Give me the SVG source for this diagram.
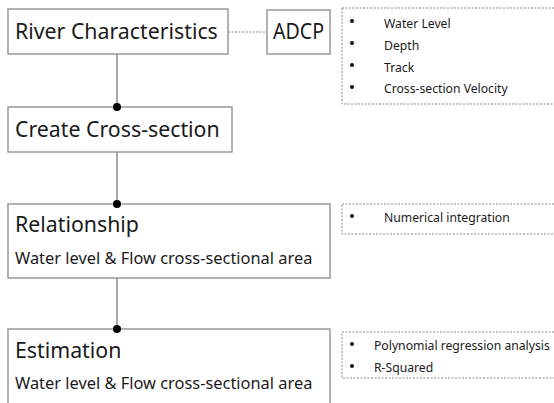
<svg xmlns="http://www.w3.org/2000/svg" width="554" height="403" viewBox="0 0 554 403">
<style>
.box{fill:#fff;stroke:#8a8a8a;stroke-width:1.3}
.dbox{fill:none;stroke:#8a8a8a;stroke-width:1;stroke-dasharray:2 1.5}
.conn{stroke:#8a8a8a;stroke-width:1.5;fill:none}
.t1{font-family:"Noto Sans","Open Sans",sans-serif;font-size:21.3px;fill:#1a1a1a}
.t2{font-family:"Noto Sans","Open Sans",sans-serif;font-size:16.4px;fill:#1a1a1a}
.t3{font-family:"Noto Sans","Open Sans",sans-serif;font-size:12.2px;fill:#1a1a1a}
.dot{fill:#000}
.bul{fill:#111}
</style>
<rect width="554" height="403" fill="#fff"/>
<g id="connectors">
<line class="conn" x1="117" y1="54" x2="117" y2="107"/>
<line class="conn" x1="117" y1="152" x2="117" y2="204"/>
<line class="conn" x1="117" y1="278" x2="117" y2="329"/>
<line x1="228" y1="32" x2="267" y2="32" stroke="#8a8a8a" stroke-width="1" stroke-dasharray="2 1.5"/>
</g>
<g id="river">
<rect class="box" x="8" y="9" width="220" height="45"/>
<text class="t1" x="15" y="39">River Characteristics</text>
</g>
<g id="adcp">
<rect class="box" x="267" y="10" width="63" height="44"/>
<text class="t1" x="273" y="39" textLength="51" lengthAdjust="spacingAndGlyphs">ADCP</text>
</g>
<g id="cross">
<rect class="box" x="8" y="107" width="224" height="45"/>
<text class="t1" x="15" y="137">Create Cross-section</text>
</g>
<g id="relationship">
<rect class="box" x="8" y="204" width="322" height="74"/>
<text class="t1" x="15" y="232">Relationship</text>
<text class="t2" x="15" y="264">Water level &amp; Flow cross-sectional area</text>
</g>
<g id="estimation">
<rect class="box" x="8" y="329" width="322" height="90"/>
<text class="t1" x="15" y="358">Estimation</text>
<text class="t2" x="15" y="389">Water level &amp; Flow cross-sectional area</text>
</g>
<g id="dots">
<circle class="dot" cx="117" cy="107" r="4"/>
<circle class="dot" cx="117" cy="204" r="4"/>
<circle class="dot" cx="117" cy="329" r="4"/>
</g>
<g id="list1">
<rect class="dbox" x="342" y="8" width="220" height="96"/>
<circle class="bul" cx="352" cy="21" r="2"/>
<circle class="bul" cx="352" cy="43" r="2"/>
<circle class="bul" cx="352" cy="65" r="2"/>
<circle class="bul" cx="352" cy="87" r="2"/>
<text class="t3" x="384" y="28">Water Level</text>
<text class="t3" x="384" y="50">Depth</text>
<text class="t3" x="384" y="72">Track</text>
<text class="t3" x="384" y="93">Cross-section Velocity</text>
</g>
<g id="list2">
<rect class="dbox" x="342" y="204" width="220" height="30"/>
<circle class="bul" cx="352" cy="216" r="2"/>
<text class="t3" x="384" y="222">Numerical integration</text>
</g>
<g id="list3">
<rect class="dbox" x="342" y="332" width="220" height="46"/>
<circle class="bul" cx="352" cy="344" r="2"/>
<circle class="bul" cx="352" cy="366" r="2"/>
<text class="t3" x="374" y="350">Polynomial regression analysis</text>
<text class="t3" x="374" y="372">R-Squared</text>
</g>
</svg>
